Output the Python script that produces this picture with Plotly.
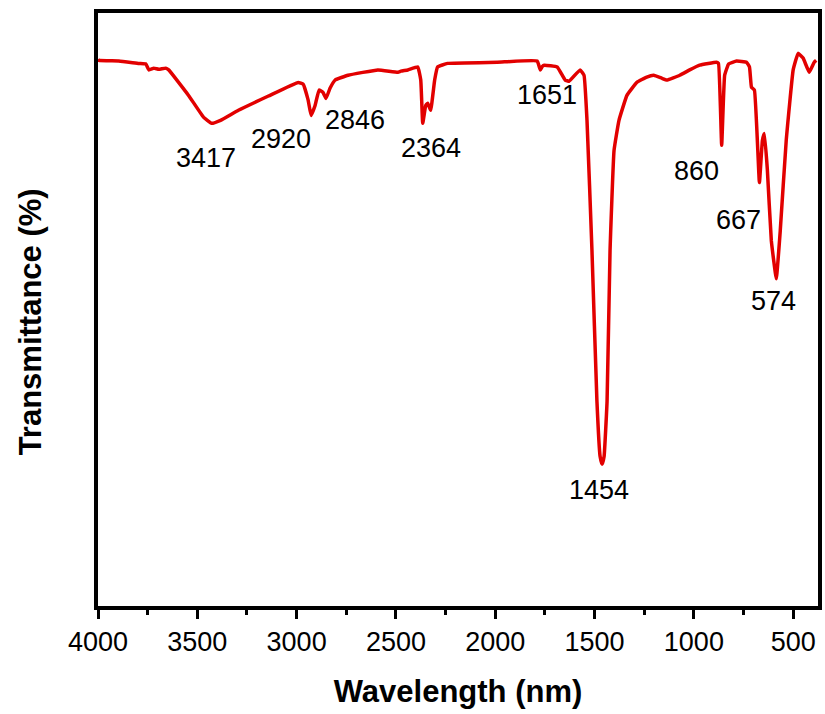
import plotly.graph_objects as go

# FTIR spectrum
wavenumber = [4000, 3995, 3895, 3794, 3759, 3744, 3719, 3694, 3659, 3644, 3544, 3468, 3428, 3383,
              3293, 3142, 2992, 2967, 2942, 2927, 2907, 2887, 2867, 2852, 2832, 2806, 2741, 2591,
              2490, 2475, 2440, 2390, 2375, 2365, 2350, 2340, 2325, 2305, 2290, 2240, 1989, 1789,
              1773, 1763, 1753, 1688, 1648, 1628, 1573, 1553, 1538, 1513, 1488, 1472, 1462, 1452,
              1437, 1422, 1402, 1377, 1337, 1287, 1237, 1202, 1162, 1136, 1071, 1021, 971, 886,
              876, 860, 845, 825, 785, 735, 720, 710, 695, 670, 655, 645, 630, 610, 585, 565,
              535, 500, 475, 450, 419, 394, 384]
transmittance = [92.2, 92.0, 91.9, 91.5, 91.4, 90.4, 90.7, 90.5, 90.7, 90.4, 86.1, 82.4, 81.4, 81.9,
                 83.6, 86.0, 88.3, 88.0, 85.3, 82.7, 84.4, 87.0, 86.6, 85.6, 87.3, 88.7, 89.5, 90.4,
                 90.0, 90.2, 90.4, 90.9, 88.7, 81.4, 84.4, 84.8, 83.6, 88.7, 90.9, 91.5, 91.7, 91.9,
                 90.4, 91.0, 91.2, 90.9, 88.7, 88.5, 90.4, 89.5, 81.9, 59.9, 34.5, 25.2, 23.9, 25.2,
                 34.5, 59.9, 76.8, 81.9, 86.1, 88.3, 89.2, 89.5, 89.0, 88.7, 89.5, 90.4, 91.2, 91.7,
                 91.5, 77.7, 89.5, 91.4, 91.9, 91.7, 90.9, 87.5, 87.0, 71.4, 78.5, 79.7, 73.6, 61.6,
                 55.2, 63.3, 78.5, 90.4, 93.2, 92.4, 90.0, 91.7, 92.0]

peak_labels = ["3417", "2920", "2846", "2364", "1651", "1454", "860", "667", "574"]
label_x = [3458, 3077, 2706, 2325, 1738, 1477, 986, 775, 600]
label_y = [75.6, 78.8, 81.9, 77.2, 86.1, 19.6, 73.3, 65.1, 51.4]

x_ticks = [4000, 3500, 3000, 2500, 2000, 1500, 1000, 500]

FONT = "Liberation Sans, Arial"

fig = go.Figure()
fig.add_trace(go.Scatter(
    x=wavenumber, y=transmittance, mode="lines",
    line=dict(color="rgb(226,0,0)", width=3.5, shape="spline", smoothing=0.3),
    showlegend=False, hoverinfo="skip"))

for t, xv, yv in zip(peak_labels, label_x, label_y):
    fig.add_annotation(x=xv, y=yv, text=t, showarrow=False, xref="x", yref="y",
                       font=dict(family=FONT, size=27, color="black"))

# y-axis title as rotated text
fig.add_annotation(x=-0.0925, y=0.479, xref="paper", yref="paper", text="<b>Transmittance (%)</b>",
                   textangle=-90, showarrow=False, xanchor="center", yanchor="middle",
                   font=dict(family=FONT, size=31, color="black"))

fig.update_layout(
    width=825, height=714,
    margin=dict(l=98, r=3, t=13, b=108),
    paper_bgcolor="white", plot_bgcolor="white",
    font=dict(family=FONT, color="black"),
)
fig.update_xaxes(
    range=[4000, 375], tickvals=x_ticks, ticktext=[str(v) for v in x_ticks],
    showline=True, linecolor="black", linewidth=3.5, mirror=True,
    ticks="outside", ticklen=9, tickwidth=3, tickcolor="black",
    minor=dict(dtick=250, tick0=0, ticks="outside", ticklen=5, tickwidth=3, tickcolor="black"),
    showgrid=False, zeroline=False,
    tickfont=dict(size=27, family=FONT, color="black"),
    title=dict(text="<b>Wavelength (nm)</b>", standoff=25,
               font=dict(size=31, family=FONT, color="black")),
)
fig.update_yaxes(
    range=[0, 100], showticklabels=False, ticks="",
    showline=True, linecolor="black", linewidth=3.5, mirror=True,
    showgrid=False, zeroline=False,
)

fig.write_html("out.html")
